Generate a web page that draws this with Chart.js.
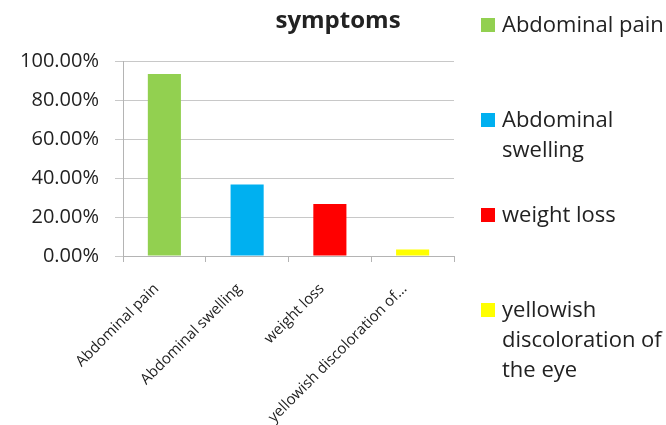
<!DOCTYPE html>
<html>
<head>
<meta charset="utf-8">
<style>
  html, body { margin: 0; padding: 0; background: #ffffff; }
  #wrap { position: relative; width: 666px; height: 425px; }
</style>
<script src="https://cdn.jsdelivr.net/npm/chart.js@4"></script>
</head>
<body>
<div id="wrap"><canvas id="chart" width="666" height="425"></canvas></div>
<script>
// Share of patients reporting each symptom (%)
const categories = [
  'Abdominal pain',
  'Abdominal swelling',
  'weight loss',
  'yellowish discoloration of the eye'
];
const percentages = [93.33, 36.67, 26.67, 3.33];
const barColors = ['#92d050', '#00b0f0', '#ff0000', '#ffff00'];
const yTicks = [0, 20, 40, 60, 80, 100];
const chartTitle = 'symptoms';

const FONT = "'Open Sans', 'Liberation Sans', sans-serif";
const TEXT = '#222222';

// Word-wrap helper for legend entries
function wrapText(ctx, text, maxWidth) {
  const words = text.split(' ');
  const lines = [];
  let line = '';
  for (const w of words) {
    const test = line ? line + ' ' + w : w;
    if (ctx.measureText(test).width > maxWidth && line) {
      lines.push(line);
      line = w;
    } else {
      line = test;
    }
  }
  if (line) lines.push(line);
  return lines;
}

// Title and a right-hand legend spread down the full height
const sideDecor = {
  id: 'sideDecor',
  afterDraw(chart) {
    const ctx = chart.ctx;
    ctx.save();
    // title
    ctx.fillStyle = TEXT;
    ctx.font = 'bold 24px ' + FONT;
    ctx.textAlign = 'center';
    ctx.textBaseline = 'alphabetic';
    ctx.fillText(chartTitle, 338, 28);

    // legend
    const boxX = 481, box = 14, textX = 502;
    const firstBase = 32, step = 95, lineH = 30;
    ctx.font = '22px ' + FONT;
    ctx.textAlign = 'left';
    categories.forEach((label, i) => {
      const base = firstBase + i * step;
      ctx.fillStyle = barColors[i];
      ctx.fillRect(boxX, base - box, box, box);
      ctx.fillStyle = TEXT;
      const lines = wrapText(ctx, label, 666 - textX);
      lines.forEach((ln, j) => ctx.fillText(ln, textX, base + j * lineH));
    });
    ctx.restore();
  }
};

const PLOT_LEFT = 123, PLOT_RIGHT = 454, PLOT_TOP = 61, PLOT_BOTTOM = 256;

new Chart(document.getElementById('chart'), {
  type: 'bar',
  data: {
    labels: categories,
    datasets: [{
      data: percentages,
      backgroundColor: barColors,
      borderWidth: 0,
      barPercentage: 0.4,
      categoryPercentage: 1.0
    }]
  },
  options: {
    responsive: false,
    animation: false,
    layout: { padding: { top: PLOT_TOP, right: 666 - PLOT_RIGHT, left: 0, bottom: 0 } },
    plugins: {
      legend: { display: false },
      title: { display: false },
      tooltip: { enabled: false }
    },
    scales: {
      x: {
        offset: true,
        grid: {
          offset: true,
          drawOnChartArea: false,
          drawTicks: true,
          tickLength: 6,
          color: '#b4b4b4'
        },
        border: { display: true, color: '#b4b4b4' },
        ticks: {
          color: TEXT,
          font: { family: FONT, size: 15 },
          minRotation: 45,
          maxRotation: 45,
          autoSkip: false,
          padding: 18,
          labelOffset: -8,
          callback(value) {
            const s = this.getLabelForValue(value);
            return s.length > 26 ? s.slice(0, 26) + '...' : s;
          }
        },
        afterFit(scale) { scale.height = 425 - PLOT_BOTTOM; }
      },
      y: {
        min: 0,
        max: 100,
        afterBuildTicks(scale) { scale.ticks = yTicks.map(v => ({ value: v })); },
        grid: {
          color: '#c8c8c8',
          drawTicks: true,
          tickLength: 8
        },
        border: { display: true, color: '#b4b4b4' },
        ticks: {
          color: TEXT,
          font: { family: FONT, size: 20 },
          padding: 16,
          callback(v) { return v.toFixed(2) + '%'; }
        },
        afterFit(scale) { scale.width = PLOT_LEFT; }
      }
    }
  },
  plugins: [sideDecor]
});
</script>
</body>
</html>
